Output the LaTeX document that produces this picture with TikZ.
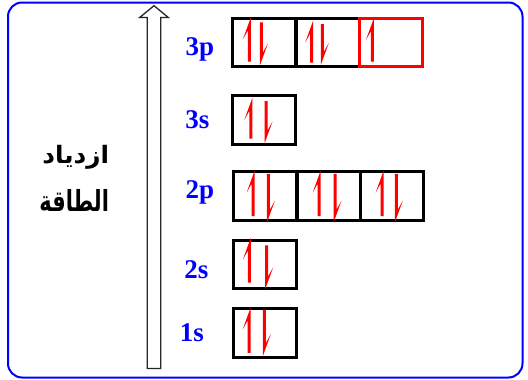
\documentclass[tikz,border=0pt]{standalone}
\usepackage{fontspec}
\usepackage{graphicx}
\setmainfont{Liberation Serif}
\newfontfamily\arabicfont[Script=Arabic]{DejaVu Sans}
\TeXXeTstate=1

% electron with spin up: tip at (x, ytip), tail at (x, ybot)
\newcommand\spinup[3]{%
  \fill[spin] (#1+1.5,#2) -- (#1-6.5,#2+22) -- (#1-1.5,#2+13)
    -- (#1-1.5,#3) -- (#1+1.5,#3) -- cycle;}
% electron with spin down: tail at (x, ytop), tip at (x, ytip)
\newcommand\spindown[3]{%
  \fill[spin] (#1-1.5,#3) -- (#1+6.5,#3-22) -- (#1+1.5,#3-13)
    -- (#1+1.5,#2) -- (#1-1.5,#2) -- cycle;}

\begin{document}
\begin{tikzpicture}[x=1pt,y=-1pt,
  orb/.style={draw=black, line width=3pt, fill=none, inner sep=0pt,
              minimum width=63pt, minimum height=48.5pt},
  orbhalf/.style={orb, draw=red},
  spin/.style={fill=red},
  lvl/.style={text=blue, font=\bfseries\fontsize{27}{27}\selectfont,
              anchor=base, inner sep=0pt},
  artext/.style={text=black, font=\arabicfont\bfseries,
                 anchor=base, inner sep=0pt}]
\useasboundingbox (0,0) rectangle (528,380);

% outer frame
\draw[blue, line width=2pt, rounded corners=14pt] (8,2.5) rectangle (522.5,377.5);

% hollow energy arrow
\draw[black!85, line width=1.3pt, fill=white]
  (147.3,368.5) -- (147.3,17.5) -- (139.7,17.5) -- (154,5.7)
  -- (168.3,17.5) -- (160.7,17.5) -- (160.7,368.5) -- cycle;

% caption (two lines, condensed horizontally)
\node[artext] (cap1) at (75.8,163.3)
  {\fontsize{24}{24}\selectfont\scalebox{1.03}[1]{\beginR ازدياد\endR}};
\node[artext] (cap2) at (74.2,211.7)
  {\fontsize{29}{29}\selectfont\scalebox{0.72}[1]{\beginR الطاقة\endR}};

% level labels
\node[lvl] (l3p) at (200,55.6) {3p};
\node[lvl] (l3s) at (197.5,128.4) {3s};
\node[lvl] (l2p) at (200,198) {2p};
\node[lvl] (l2s) at (196.5,278.7) {2s};
\node[lvl] (l1s) at (192,341) {1s};

% orbital boxes
\node[orb] (p3a) at (263.6,42.4) {};
\node[orb] (p3b) at (327.5,42.4) {};
\node[orbhalf] (p3c) at (390.6,42.4) {};
\node[orb] (s3) at (263.7,119.8) {};
\node[orb] (p2a) at (265.2,195.9) {};
\node[orb] (p2b) at (328.6,195.9) {};
\node[orb] (p2c) at (392.3,195.9) {};
\node[orb] (s2) at (264.8,264.3) {};
\node[orb] (s1) at (264.8,332.8) {};

% electrons
\spinup{249.3}{17.5}{61.7}  \spindown{261.3}{22.3}{65.7}
\spinup{311.7}{20.5}{62.7}  \spindown{322.3}{24}{65}
\spinup{372.3}{18.3}{61.7}
\spinup{250.8}{98}{138.5}   \spindown{266}{101}{143.6}
\spinup{253.2}{170.5}{216}  \spindown{268.4}{173.9}{222.7}
\spinup{319.2}{170.5}{216}  \spindown{335}{173.9}{222.7}
\spinup{382.2}{170.5}{216}  \spindown{396.3}{173.9}{222.7}
\spinup{249.3}{237.7}{282.7} \spindown{266.7}{245.3}{289.3}
\spinup{249.2}{307.3}{352.8} \spindown{264.3}{310}{356.2}
\end{tikzpicture}
\end{document}
